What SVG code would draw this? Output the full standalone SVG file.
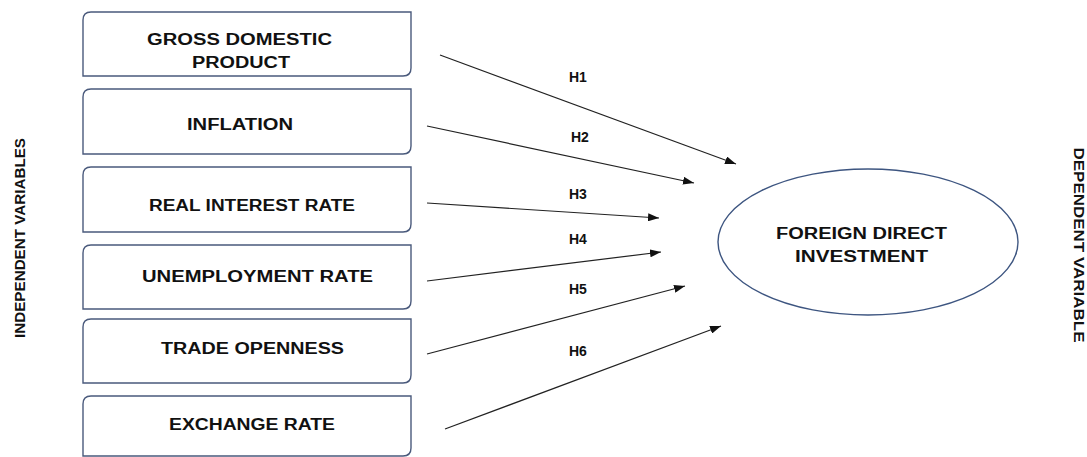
<svg xmlns="http://www.w3.org/2000/svg" width="1087" height="457" viewBox="0 0 1087 457">
<style>
.box{fill:#fff;stroke:#4a5a7c;stroke-width:1.4}
.t{font-family:"Liberation Sans",Arial,sans-serif;font-weight:bold;font-size:16px;fill:#111}
.s{font-family:"Liberation Sans",Arial,sans-serif;font-weight:bold;font-size:15px;fill:#111}
.h{font-family:"Liberation Sans",Arial,sans-serif;font-weight:bold;font-size:14px;fill:#111}
.c{stroke:#222;stroke-width:1.2;fill:none;marker-end:url(#ah)}
</style>
<defs>
<marker id="ah" markerUnits="userSpaceOnUse" markerWidth="11" markerHeight="8" refX="11" refY="4" orient="auto">
<path d="M0,0 L11,4 L0,8 z" fill="#111"/>
</marker>
</defs>
<rect width="1087" height="457" fill="#fff"/>
<g id="label-independent">
<text class="s" transform="translate(25,238) rotate(-90)" text-anchor="middle" textLength="200" lengthAdjust="spacingAndGlyphs">INDEPENDENT VARIABLES</text>
</g>
<g id="label-dependent">
<text class="s" transform="translate(1074,245) rotate(90)" text-anchor="middle" textLength="195" lengthAdjust="spacingAndGlyphs">DEPENDENT VARIABLE</text>
</g>
<g id="node-gdp">
<path class="box" d="M91,12 H411 V68 Q411,76 403,76 H83 V20 Q83,12 91,12 Z"/>
<text class="t" x="147" y="45" textLength="185" lengthAdjust="spacingAndGlyphs">GROSS DOMESTIC</text>
<text class="t" x="192" y="68" textLength="98" lengthAdjust="spacingAndGlyphs">PRODUCT</text>
</g>
<g id="node-inflation">
<path class="box" d="M91,89 H411 V146 Q411,154 403,154 H83 V97 Q83,89 91,89 Z"/>
<text class="t" x="187" y="130" textLength="106" lengthAdjust="spacingAndGlyphs">INFLATION</text>
</g>
<g id="node-interest">
<path class="box" d="M91,167 H411 V224 Q411,232 403,232 H83 V175 Q83,167 91,167 Z"/>
<text class="t" x="149" y="211" textLength="206" lengthAdjust="spacingAndGlyphs">REAL INTEREST RATE</text>
</g>
<g id="node-unemployment">
<path class="box" d="M91,245 H411 V301 Q411,309 403,309 H83 V253 Q83,245 91,245 Z"/>
<text class="t" x="142" y="282" textLength="231" lengthAdjust="spacingAndGlyphs">UNEMPLOYMENT RATE</text>
</g>
<g id="node-trade">
<path class="box" d="M91,319 H411 V375 Q411,383 403,383 H83 V327 Q83,319 91,319 Z"/>
<text class="t" x="161" y="354" textLength="183" lengthAdjust="spacingAndGlyphs">TRADE OPENNESS</text>
</g>
<g id="node-exchange">
<path class="box" d="M91,396 H411 V448 Q411,456 403,456 H83 V404 Q83,396 91,396 Z"/>
<text class="t" x="169" y="430" textLength="166" lengthAdjust="spacingAndGlyphs">EXCHANGE RATE</text>
</g>
<g id="node-fdi">
<ellipse cx="868" cy="242" rx="150" ry="73" fill="#fff" stroke="#3d5580" stroke-width="1.4"/>
<text class="t" x="776" y="239" textLength="171" lengthAdjust="spacingAndGlyphs">FOREIGN DIRECT</text>
<text class="t" x="795" y="262" textLength="133" lengthAdjust="spacingAndGlyphs">INVESTMENT</text>
</g>
<g id="connectors">
<line class="c" x1="440" y1="55" x2="736" y2="164"/>
<line class="c" x1="427" y1="126" x2="694" y2="183"/>
<line class="c" x1="427" y1="203" x2="659" y2="218"/>
<line class="c" x1="427" y1="281" x2="661" y2="252"/>
<line class="c" x1="427" y1="354" x2="685" y2="286"/>
<line class="c" x1="445" y1="429" x2="721" y2="326"/>
<text class="h" x="569" y="82">H1</text>
<text class="h" x="571" y="142">H2</text>
<text class="h" x="569" y="199">H3</text>
<text class="h" x="569" y="244">H4</text>
<text class="h" x="569" y="294">H5</text>
<text class="h" x="569" y="356">H6</text>
</g>
</svg>
